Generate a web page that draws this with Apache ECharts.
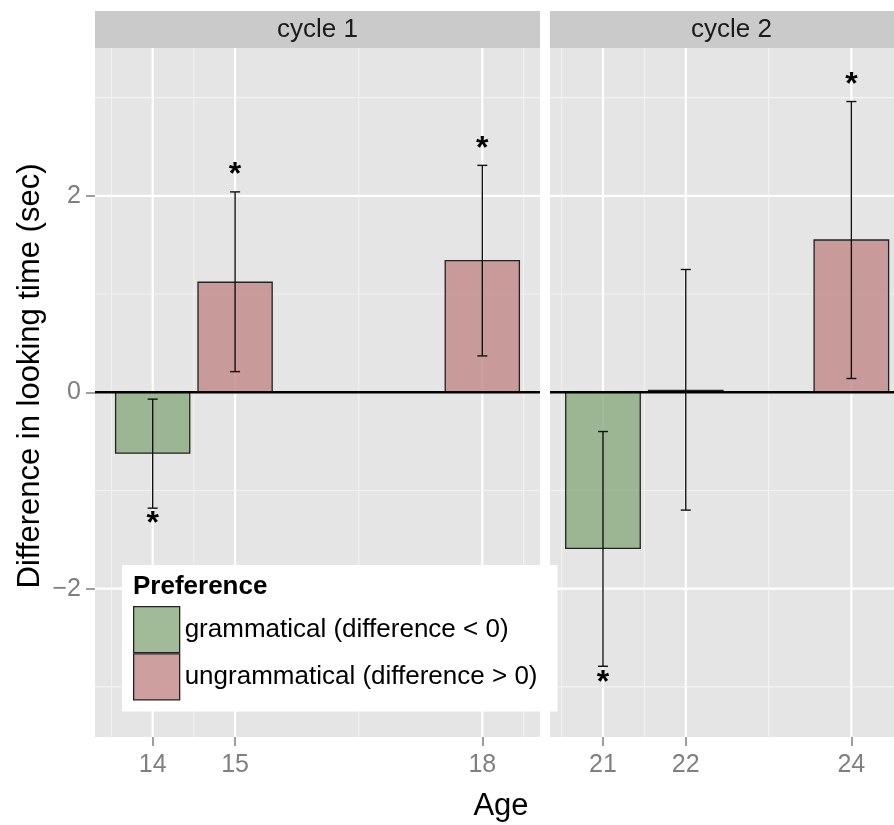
<!DOCTYPE html>
<html><head><meta charset="utf-8">
<script src="https://cdn.jsdelivr.net/npm/echarts@6/dist/echarts.min.js"></script>
<style>html,body{margin:0;padding:0;background:#fff}#c{width:894px;height:825px}</style>
</head><body><div id="c"></div>
<script>
// ---------- data ----------
const panelNames = ['cycle 1', 'cycle 2'];
const ages1   = [14, 15, 18];
const diff1   = [-0.62, 1.12, 1.34];
const lower1  = [-1.18, 0.21, 0.37];
const upper1  = [-0.07, 2.04, 2.31];
const signif1 = [true, true, true];
const ages2   = [21, 22, 24];
const diff2   = [-1.59, 0.02, 1.55];
const lower2  = [-2.79, -1.20, 0.14];
const upper2  = [-0.40, 1.25, 2.96];
const signif2 = [true, false, true];
const xTicks1 = [14, 15, 18];
const xTicks2 = [21, 22, 24];
const xMinor1 = [13.5, 14.5, 16.5, 18.5];
const xMinor2 = [20.5, 21.5, 23];
const yTicks  = [-2, 0, 2];
const yMinor  = [-3, -1, 1, 3];
const prefNames = ['grammatical (difference < 0)', 'ungrammatical (difference > 0)'];
const legendTitle = 'Preference';
const xTitle = 'Age';
const yTitle = 'Difference in looking time (sec)';

// ---------- style ----------
const FONT = '"Liberation Sans", Arial, Helvetica, sans-serif';
const FILL = ['rgba(138,169,125,0.8)', 'rgba(192,135,134,0.8)'];
const BAR_W = 0.9;
const CAP = 5;
const Y_MIN = -3.51, Y_MAX = 3.505;
const X_RANGE = [[13.3, 18.7], [20.36, 24.515]];
const GRID = [
  {left: 95, top: 48, width: 445, height: 689},
  {left: 550, top: 48, width: 344, height: 689}
];

const panels = [
  {ages: ages1, diff: diff1, lo: lower1, hi: upper1, sig: signif1, ticks: xTicks1, minor: xMinor1},
  {ages: ages2, diff: diff2, lo: lower2, hi: upper2, sig: signif2, ticks: xTicks2, minor: xMinor2}
];

const grids = GRID.map(g => Object.assign({show: true, backgroundColor: '#e5e5e5', borderWidth: 0, containLabel: false, outerBoundsMode: 'none'}, g));

const xAxes = panels.map((p, i) => ({
  type: 'value', gridIndex: i, min: X_RANGE[i][0], max: X_RANGE[i][1],
  axisLine: {show: false, onZero: false},
  splitLine: {show: false},
  axisTick: {show: true, customValues: p.ticks, length: 9, lineStyle: {color: '#7f7f7f', width: 1.5}},
  axisLabel: {customValues: p.ticks, fontSize: 25, color: '#7f7f7f', fontFamily: FONT, margin: 16}
}));

const yAxes = panels.map((p, i) => ({
  type: 'value', gridIndex: i, min: Y_MIN, max: Y_MAX,
  axisLine: {show: false, onZero: false},
  splitLine: {show: false},
  axisTick: {show: i === 0, customValues: yTicks, length: 9, lineStyle: {color: '#7f7f7f', width: 1.5}},
  axisLabel: {show: i === 0, customValues: yTicks, fontSize: 25, color: '#7f7f7f', fontFamily: FONT, margin: 14,
    formatter: v => String(v).replace('-', '\u2212')}
}));

const series = [];

panels.forEach((p, i) => {
  // grid lines
  const gdata = [];
  yMinor.forEach(v => gdata.push([0, v, 0]));
  p.minor.forEach(v => gdata.push([1, v, 0]));
  yTicks.forEach(v => gdata.push([0, v, 1]));
  p.ticks.forEach(v => gdata.push([1, v, 1]));
  series.push({
    type: 'custom', xAxisIndex: i, yAxisIndex: i, silent: true, z: 1, data: gdata,
    renderItem(params, api) {
      const cs = params.coordSys;
      const o = api.value(0), v = api.value(1), major = api.value(2);
      let shape;
      if (o === 0) {
        const y = api.coord([X_RANGE[i][0], v])[1];
        shape = {x1: cs.x, y1: y, x2: cs.x + cs.width, y2: y};
      } else {
        const x = api.coord([v, 0])[0];
        shape = {x1: x, y1: cs.y, x2: x, y2: cs.y + cs.height};
      }
      return {type: 'line', shape, style: {stroke: major ? '#ffffff' : '#f2f2f2', lineWidth: major ? 2.2 : 1.1}};
    }
  });
  // bars, one series per preference
  [0, 1].forEach(k => {
    const data = [];
    p.ages.forEach((a, j) => { if ((p.diff[j] < 0 ? 0 : 1) === k) data.push([a, p.diff[j]]); });
    series.push({
      type: 'custom', name: prefNames[k], xAxisIndex: i, yAxisIndex: i, z: 2, data,
      itemStyle: {color: FILL[k]},
      renderItem(params, api) {
        const x = api.value(0), v = api.value(1);
        const a = api.coord([x - BAR_W / 2, 0]);
        const b = api.coord([x + BAR_W / 2, v]);
        return {type: 'rect',
          shape: {x: a[0], y: Math.min(a[1], b[1]), width: b[0] - a[0], height: Math.abs(b[1] - a[1])},
          style: {fill: FILL[k], stroke: '#222', lineWidth: 1.3}};
      }
    });
  });
  // zero line
  series.push({
    type: 'custom', xAxisIndex: i, yAxisIndex: i, silent: true, z: 3, data: [[X_RANGE[i][0], 0]],
    renderItem(params, api) {
      const cs = params.coordSys;
      const y = api.coord([X_RANGE[i][0], 0])[1];
      return {type: 'line', shape: {x1: cs.x, y1: y, x2: cs.x + cs.width, y2: y}, style: {stroke: '#000', lineWidth: 2.5}};
    }
  });
  // error bars
  series.push({
    type: 'custom', xAxisIndex: i, yAxisIndex: i, silent: true, z: 4,
    data: p.ages.map((a, j) => [a, p.lo[j], p.hi[j]]),
    renderItem(params, api) {
      const x = api.value(0);
      const l = api.coord([x, api.value(1)]);
      const h = api.coord([x, api.value(2)]);
      const st = {stroke: '#111', lineWidth: 1.4};
      return {type: 'group', children: [
        {type: 'line', shape: {x1: l[0], y1: l[1], x2: h[0], y2: h[1]}, style: st},
        {type: 'line', shape: {x1: l[0] - CAP, y1: l[1], x2: l[0] + CAP, y2: l[1]}, style: st},
        {type: 'line', shape: {x1: h[0] - CAP, y1: h[1], x2: h[0] + CAP, y2: h[1]}, style: st}
      ]};
    }
  });
  // significance stars
  const sdata = [];
  p.ages.forEach((a, j) => { if (p.sig[j]) sdata.push(p.diff[j] >= 0 ? [a, p.hi[j], 1] : [a, p.lo[j], -1]); });
  series.push({
    type: 'custom', xAxisIndex: i, yAxisIndex: i, silent: true, z: 5, data: sdata,
    renderItem(params, api) {
      const pt = api.coord([api.value(0), api.value(1)]);
      const dir = api.value(2);
      return {type: 'text', x: pt[0], y: pt[1] - dir * 16.5,
        style: {text: '*', fontSize: 32, fontWeight: 'bold', fontFamily: FONT, fill: '#000', align: 'center', verticalAlign: 'middle'}};
    }
  });
});

const graphics = [];
GRID.forEach((g, i) => {
  graphics.push({type: 'rect', shape: {x: g.left, y: 11, width: g.width, height: 37}, style: {fill: '#cacaca'}, silent: true});
  graphics.push({type: 'text', x: g.left + (i === 0 ? g.width / 2 : 363 / 2), y: 30,
    style: {text: panelNames[i], fontSize: 26, fontFamily: FONT, fill: '#1a1a1a', align: 'center', verticalAlign: 'middle'}});
});
graphics.push({type: 'text', x: 501, y: 806,
  style: {text: xTitle, fontSize: 31, fontFamily: FONT, fill: '#000', align: 'center', verticalAlign: 'middle'}});
graphics.push({type: 'text', x: 30, y: 376, rotation: Math.PI / 2,
  style: {text: yTitle, fontSize: 31, fontFamily: FONT, fill: '#000', align: 'center', verticalAlign: 'middle'}});
graphics.push({type: 'text', x: 133, y: 587, z: 100,
  style: {text: legendTitle, fontSize: 26, fontWeight: 'bold', fontFamily: FONT, fill: '#000', align: 'left', verticalAlign: 'middle'}});

const chart = echarts.init(document.getElementById('c'), null, {renderer: 'canvas'});
chart.setOption({
  animation: false,
  backgroundColor: '#fff',
  grid: grids,
  xAxis: xAxes,
  yAxis: yAxes,
  legend: {
    left: 122, top: 565, orient: 'vertical', selectedMode: false, z: 50,
    backgroundColor: '#fff', padding: [41, 20, 11, 11], itemGap: 0, itemWidth: 46, itemHeight: 46,
    textStyle: {fontSize: 26, fontFamily: FONT, color: '#000'},
    data: prefNames.map((n, k) => ({name: n, icon: 'rect',
      itemStyle: {color: FILL[k], borderColor: '#222', borderWidth: 1.3}}))
  },
  graphic: {elements: graphics.map(e => Object.assign({z: 100}, e))},
  series
});
</script></body></html>
